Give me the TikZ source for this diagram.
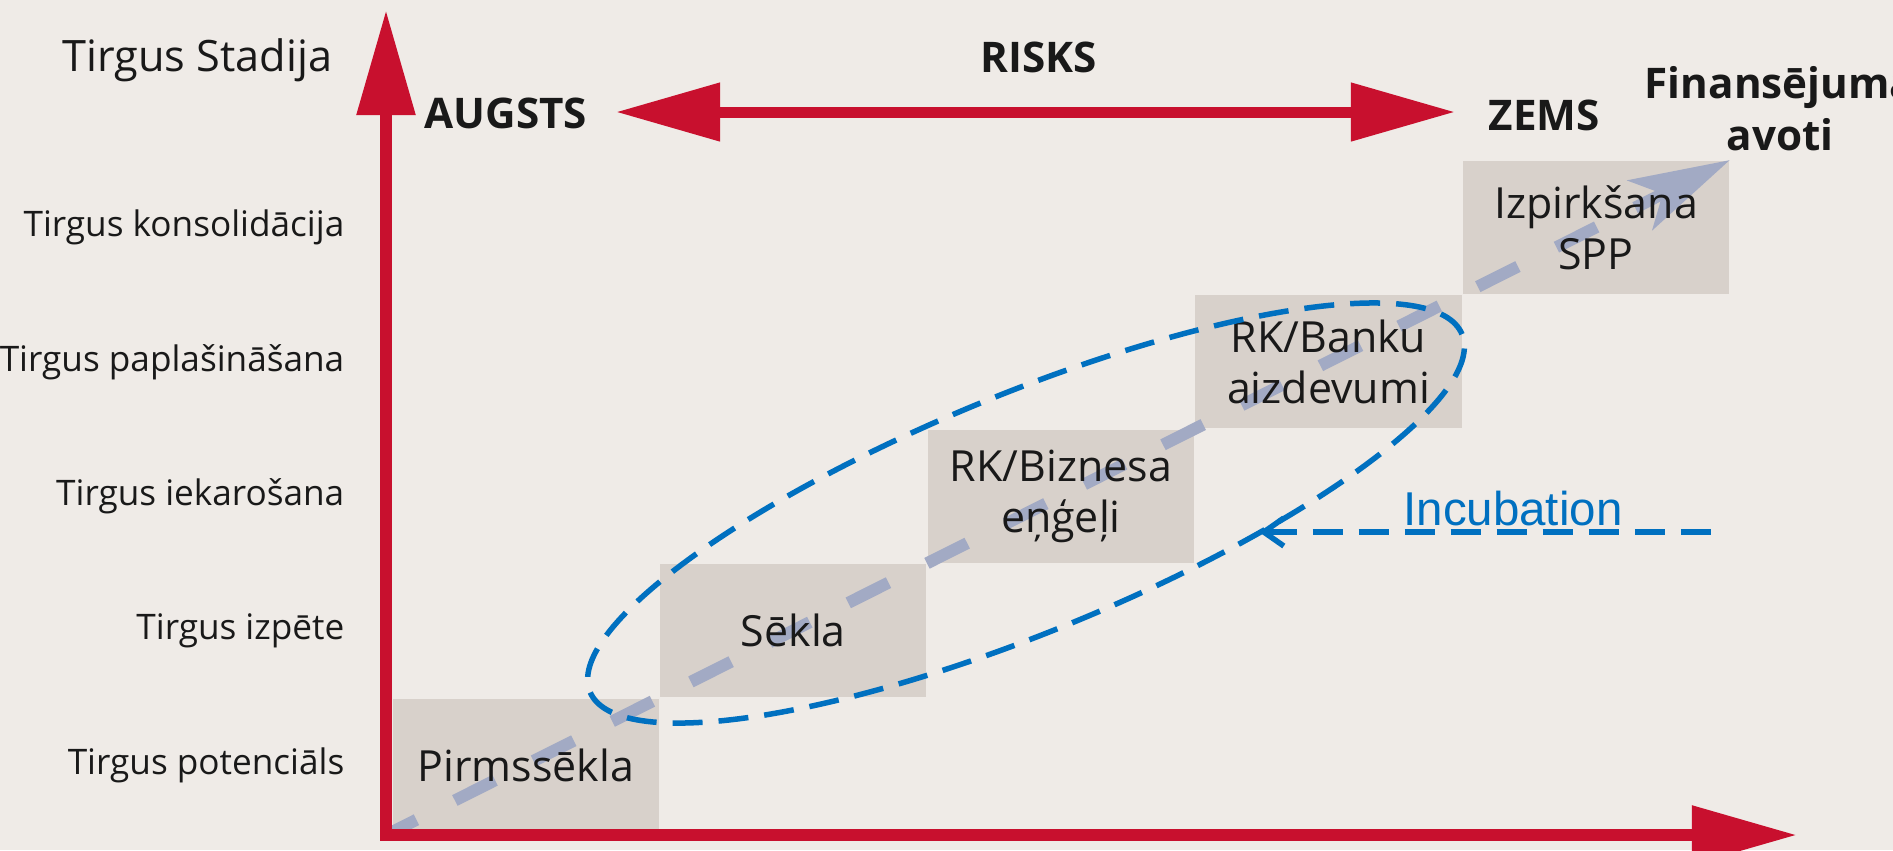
\documentclass[tikz,border=0pt]{standalone}
\usepackage{fontspec}
\setmainfont{Open Sans}
\newfontfamily\arialfont{Liberation Sans}
\usepackage{tikz}
\usetikzlibrary{arrows.meta,positioning}
\definecolor{bgbeige}{RGB}{239,235,231}
\definecolor{boxgrey}{RGB}{216,209,203}
\definecolor{axisred}{RGB}{200,16,46}
\definecolor{incblue}{RGB}{0,112,192}
\definecolor{trendgrey}{RGB}{162,170,196}
\definecolor{txtdark}{RGB}{25,25,25}
\tikzset{
axis/.style={axisred,line width=0.12cm},
stagebox/.style={fill=boxgrey,minimum width=2.66cm,minimum height=1.33cm,inner sep=0pt},
stagetext/.style={text=txtdark,align=center,font=\fontsize{12.2}{14.5}\selectfont},
stagelabel/.style={text=txtdark,anchor=east,inner sep=0pt,font=\fontsize{10}{12}\selectfont},
riskword/.style={text=txtdark,inner sep=0pt,font=\fontsize{12}{14}\selectfont\bfseries},
trend/.style={trendgrey,line width=0.12cm,dash pattern=on 0.45cm off 0.43cm,dash phase=0.11cm},
incub/.style={incblue,line width=0.055cm,dash pattern=on 0.3cm off 0.16cm}
}

\begin{document}
\begin{tikzpicture}[x=0.01cm,y=-0.01cm]
\fill[bgbeige] (0,0) rectangle (1893,850);
\useasboundingbox (0,0) rectangle (1893,850);
% axes
\coordinate (O) at (386,835);
\coordinate (ytop) at (386,10);
\coordinate (xend) at (1797,835);
\coordinate (riskL) at (616,112);
\coordinate (riskR) at (1455,112);
\coordinate (lblx) at (345,0);
% steps
\node[stagebox,anchor=north west] (pirm) at (392,698) {};
\node[stagebox,above right=0pt of pirm] (sekla) {};
\node[stagebox,above right=0pt of sekla] (rkbiz) {};
\node[stagebox,above right=0pt of rkbiz] (rkbank) {};
\node[stagebox,above right=0pt of rkbank] (izp) {};
\draw[trend,-{Stealth[length=1cm,width=0.55cm,inset=0.25cm]}] (O) -- (izp.north east);
\node[stagetext] (pirmtxt) at (pirm) {Pirmssēkla};
\node[stagetext] (seklatxt) at (sekla) {Sēkla};
\node[stagetext] (rkbiztxt) at (rkbiz) {RK/Biznesa\\eņģeļi};
\node[stagetext] (rkbanktxt) at (rkbank) {RK/Banku\\aizdevumi};
\node[stagetext] (izptxt) at (izp) {Izpirkšana\\SPP};
\draw[axis,{Triangle[length=1.05cm,width=0.56cm]}-{Triangle[length=1.05cm,width=0.56cm]}] (ytop) -- (O) -- (xend);
\draw[axis,line width=0.11cm,{Triangle[length=1.04cm,width=0.56cm]}-{Triangle[length=1.04cm,width=0.56cm]}] (riskL) -- (riskR);
% labels
\node[text=txtdark,anchor=base east,inner sep=0pt,font=\fontsize{12.3}{14}\selectfont] (stadija) at (333,71) {Tirgus Stadija};
\node[stagelabel] (lkons) at (izp -| lblx) {Tirgus konsolidācija};
\node[stagelabel] (lpapl) at (rkbank -| lblx) {Tirgus paplašināšana};
\node[stagelabel] (liek) at (rkbiz -| lblx) {Tirgus iekarošana};
\node[stagelabel] (lizp) at (sekla -| lblx) {Tirgus izpēte};
\node[stagelabel] (lpot) at (pirm -| lblx) {Tirgus potenciāls};
\node[riskword,anchor=base] (risks) at (1039,72) {RISKS};
\node[riskword,anchor=base west] (augsts) at (424,128) {AUGSTS};
\node[riskword,anchor=base west] (zems) at (1488,130) {ZEMS};
\node[riskword,anchor=base] (fin) at (1780,98) {Finansējuma};
\node[riskword,anchor=base] (avoti) at (1780,150) {avoti};
% incubation
\draw[incub,rotate around={22.3:(1026,513)}] (1026,513) ellipse [x radius=4.71cm,y radius=1.19cm];
\coordinate (inctip) at (1259,532);
\coordinate (incend) at (1719,532);
\draw[incub,{Straight Barb[length=0.2cm,width=0.28cm]}-] (inctip) -- (incend);
\node[text=incblue,anchor=base,inner sep=0pt,font=\arialfont\fontsize{13.5}{15}\selectfont] (inctxt) at (1513,525) {Incubation};
\end{tikzpicture}
\end{document}
